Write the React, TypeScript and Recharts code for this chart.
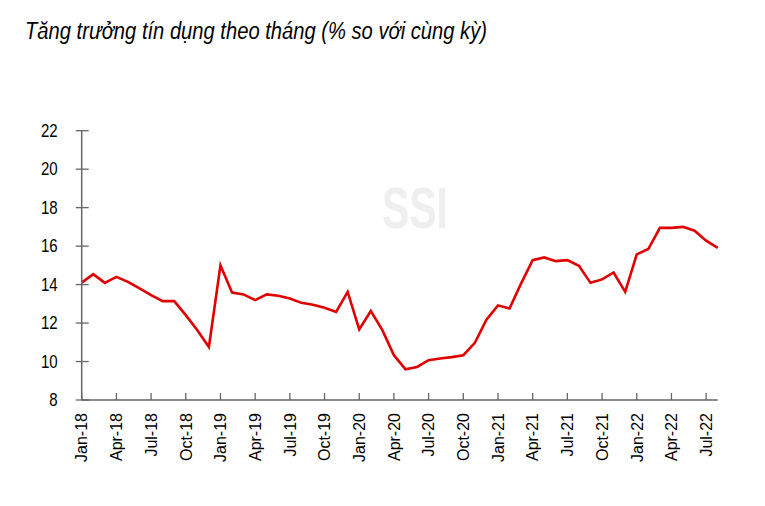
import React from "react";
import { LineChart, Line, XAxis, YAxis } from "recharts";

const months: string[] = [
  "Jan-18","Feb-18","Mar-18","Apr-18","May-18","Jun-18","Jul-18","Aug-18","Sep-18","Oct-18","Nov-18","Dec-18",
  "Jan-19","Feb-19","Mar-19","Apr-19","May-19","Jun-19","Jul-19","Aug-19","Sep-19","Oct-19","Nov-19","Dec-19",
  "Jan-20","Feb-20","Mar-20","Apr-20","May-20","Jun-20","Jul-20","Aug-20","Sep-20","Oct-20","Nov-20","Dec-20",
  "Jan-21","Feb-21","Mar-21","Apr-21","May-21","Jun-21","Jul-21","Aug-21","Sep-21","Oct-21","Nov-21","Dec-21",
  "Jan-22","Feb-22","Mar-22","Apr-22","May-22","Jun-22","Jul-22","Aug-22",
];

const creditGrowth: number[] = [
  14.1, 14.54, 14.09, 14.4, 14.14, 13.8, 13.45, 13.14, 13.14, 12.41, 11.63, 10.76,
  15.0, 13.59, 13.49, 13.19, 13.49, 13.42, 13.28, 13.05, 12.95, 12.79, 12.58, 13.62,
  11.67, 12.63, 11.63, 10.33, 9.6, 9.72, 10.07, 10.16, 10.23, 10.33, 10.97, 12.17,
  12.92, 12.76, 14.06, 15.27, 15.41, 15.22, 15.27, 14.98, 14.09, 14.27, 14.63, 13.62,
  15.57, 15.85, 16.95, 16.95, 17.0, 16.8, 16.28, 15.91,
];

const yTicks: number[] = [8, 10, 12, 14, 16, 18, 20, 22];

const titleText = "Tăng trưởng tín dụng theo tháng (% so với cùng kỳ)";

const data = months.map((m, i) => ({ month: m, value: creditGrowth[i] }));

const FONT = "'Liberation Sans', Arial, sans-serif";
const AXIS_COLOR = "#666666";

const YTick = (props: any) => {
  const { x, y, payload } = props;
  return (
    <g>
      <line x1={x - 6} x2={x + 7} y1={y} y2={y} stroke={AXIS_COLOR} strokeWidth={1.3} />
      <g transform={`translate(${x - 24},${y}) scale(0.86,1)`}>
        <text textAnchor="end" dy="0.36em" fontSize={17.5} fontFamily={FONT} fill="#000">
          {payload.value}
        </text>
      </g>
    </g>
  );
};

const XTick = (props: any) => {
  const { x, y, payload } = props;
  return (
    <g>
      <line x1={x} x2={x} y1={y} y2={y - 7} stroke={AXIS_COLOR} strokeWidth={1.3} />
      <text
        transform={`translate(${x},${y + 13}) rotate(-90)`}
        textAnchor="end"
        dy="0.36em"
        fontSize={16}
        fontFamily={FONT}
        fill="#000"
      >
        {payload.value}
      </text>
    </g>
  );
};

export default function App() {
  return (
    <div style={{ position: "absolute", left: 0, top: 0, width: 765, height: 506, background: "#fff" }}>
      <svg width={765} height={506} style={{ position: "absolute", left: 0, top: 0 }}>
        <text
          x={382}
          y={228}
          fontSize={57}
          fontWeight="bold"
          fontFamily={FONT}
          fill="#efefef"
          textLength={66}
          lengthAdjust="spacingAndGlyphs"
        >
          SSI
        </text>
        <text
          x={25}
          y={38.5}
          fontSize={23.5}
          fontStyle="italic"
          fontFamily={FONT}
          fill="#000"
          textLength={462}
          lengthAdjust="spacingAndGlyphs"
        >
          {titleText}
        </text>
      </svg>
      <div style={{ position: "absolute", left: 0, top: 0 }}>
        <LineChart
          width={765}
          height={506}
          data={data}
          margin={{ top: 130.7, right: 47.3, bottom: 36, left: 0 }}
        >
          <XAxis
            dataKey="month"
            interval={2}
            height={70}
            tickSize={0}
            tickMargin={0}
            tickLine={false}
            axisLine={{ stroke: AXIS_COLOR, strokeWidth: 1.5 }}
            tick={<XTick />}
          />
          <YAxis
            type="number"
            domain={[8, 22]}
            ticks={yTicks}
            width={81.7}
            tickSize={0}
            tickMargin={0}
            tickLine={false}
            axisLine={{ stroke: AXIS_COLOR, strokeWidth: 1.5 }}
            tick={<YTick />}
            interval={0}
          />
          <Line
            type="linear"
            dataKey="value"
            stroke="#e00000"
            strokeWidth={2.6}
            dot={false}
            activeDot={false}
            isAnimationActive={false}
          />
        </LineChart>
      </div>
    </div>
  );
}
